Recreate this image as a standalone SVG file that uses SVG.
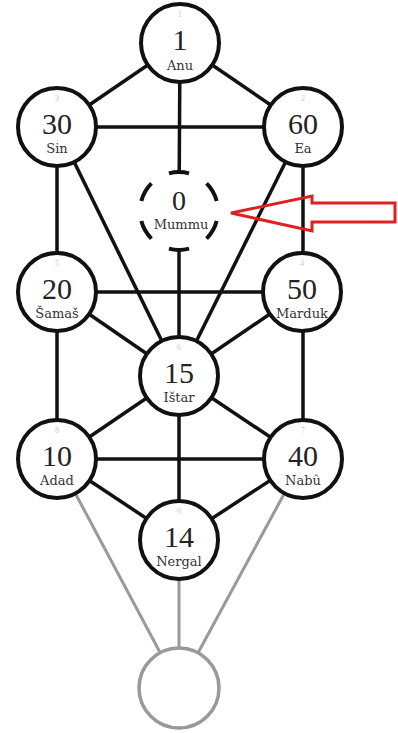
<svg xmlns="http://www.w3.org/2000/svg" width="398" height="733" viewBox="0 0 398 733">
  <style>
    .edge { stroke: #111; stroke-width: 3.5; fill: none; stroke-linecap: butt; }
    .edge-grey { stroke: #999; stroke-width: 3; fill: none; }
    .node { fill: #fff; stroke: #111; stroke-width: 4; }
    .node-grey { fill: #fff; stroke: #999; stroke-width: 3.5; }
    .node-dashed { fill: #fff; stroke: #111; stroke-width: 4; stroke-dasharray: 30 30; stroke-dashoffset: -15; }
    .num { font-family: "Liberation Serif", "Times New Roman", serif; font-size: 30px; fill: #222; text-anchor: middle; }
    .name { font-family: "DejaVu Serif", "Liberation Serif", serif; font-size: 13px; fill: #333; text-anchor: middle; }
    .idx { font-family: "Liberation Serif", serif; font-size: 8px; fill: #c8c8c8; text-anchor: middle; }
    .pointer { fill: none; stroke: #e02020; stroke-width: 3; stroke-linejoin: miter; }
  </style>
  <rect width="398" height="733" fill="#fff"/>

  <g id="connectors">
    <!-- grey lower paths -->
    <line class="edge-grey" x1="57" y1="459" x2="179" y2="688"/>
    <line class="edge-grey" x1="303" y1="459" x2="179" y2="688"/>
    <line class="edge-grey" x1="179" y1="540" x2="179" y2="688"/>
    <!-- upper triad -->
    <line class="edge" x1="180" y1="43" x2="57" y2="127"/>
    <line class="edge" x1="180" y1="43" x2="303" y2="127"/>
    <line class="edge" x1="180" y1="43" x2="179" y2="211"/>
    <line class="edge" x1="57" y1="127" x2="303" y2="127"/>
    <!-- pillars -->
    <line class="edge" x1="57" y1="127" x2="57" y2="459"/>
    <line class="edge" x1="303" y1="127" x2="303" y2="459"/>
    <line class="edge" x1="179" y1="211" x2="179" y2="540"/>
    <!-- diagonals to 15 -->
    <line class="edge" x1="57" y1="127" x2="179" y2="376"/>
    <line class="edge" x1="303" y1="127" x2="179" y2="376"/>
    <line class="edge" x1="57" y1="292" x2="179" y2="376"/>
    <line class="edge" x1="302" y1="292" x2="179" y2="376"/>
    <line class="edge" x1="57" y1="459" x2="179" y2="376"/>
    <line class="edge" x1="303" y1="459" x2="179" y2="376"/>
    <!-- horizontals -->
    <line class="edge" x1="57" y1="292" x2="302" y2="292"/>
    <line class="edge" x1="57" y1="459" x2="303" y2="459"/>
    <!-- to 14 -->
    <line class="edge" x1="57" y1="459" x2="179" y2="540"/>
    <line class="edge" x1="303" y1="459" x2="179" y2="540"/>
  </g>

  <g id="n1">
    <circle class="node" cx="180" cy="43" r="39"/>
    <text class="idx" x="180" y="17">1</text>
    <text class="num" x="180" y="50">1</text>
    <text class="name" x="180" y="70">Anu</text>
  </g>
  <g id="n30">
    <circle class="node" cx="57" cy="127" r="39"/>
    <text class="idx" x="57" y="101">3</text>
    <text class="num" x="57" y="134">30</text>
    <text class="name" x="57" y="153">Sin</text>
  </g>
  <g id="n60">
    <circle class="node" cx="303" cy="127" r="39"/>
    <text class="idx" x="303" y="101">2</text>
    <text class="num" x="303" y="134">60</text>
    <text class="name" x="303" y="153">Ea</text>
  </g>
  <g id="n0">
    <circle class="node-dashed" cx="179" cy="211" r="39" pathLength="360"/>
    <text class="num" x="179" y="210" style="font-size:28px">0</text>
    <text class="name" x="181" y="229">Mummu</text>
  </g>
  <g id="n20">
    <circle class="node" cx="57" cy="292" r="39"/>
    <text class="idx" x="57" y="266">5</text>
    <text class="num" x="57" y="299">20</text>
    <text class="name" x="57" y="318">Šamaš</text>
  </g>
  <g id="n50">
    <circle class="node" cx="302" cy="292" r="39"/>
    <text class="idx" x="302" y="266">4</text>
    <text class="num" x="302" y="299">50</text>
    <text class="name" x="302" y="318">Marduk</text>
  </g>
  <g id="n15">
    <circle class="node" cx="179" cy="376" r="39"/>
    <text class="idx" x="179" y="350">6</text>
    <text class="num" x="179" y="383">15</text>
    <text class="name" x="179" y="402">Ištar</text>
  </g>
  <g id="n10">
    <circle class="node" cx="57" cy="459" r="39"/>
    <text class="idx" x="57" y="433">8</text>
    <text class="num" x="57" y="466">10</text>
    <text class="name" x="57" y="485">Adad</text>
  </g>
  <g id="n40">
    <circle class="node" cx="303" cy="459" r="39"/>
    <text class="idx" x="303" y="433">7</text>
    <text class="num" x="303" y="466">40</text>
    <text class="name" x="303" y="485">Nabû</text>
  </g>
  <g id="n14">
    <circle class="node" cx="179" cy="540" r="39"/>
    <text class="idx" x="179" y="514">9</text>
    <text class="num" x="179" y="547">14</text>
    <text class="name" x="179" y="566">Nergal</text>
  </g>
  <g id="n-base">
    <circle class="node-grey" cx="179" cy="688" r="40"/>
  </g>

  <g id="pointer">
    <polygon class="pointer" points="231,213 312,196 312,203 395,203 395,222 312,222 312,231"/>
  </g>
</svg>
